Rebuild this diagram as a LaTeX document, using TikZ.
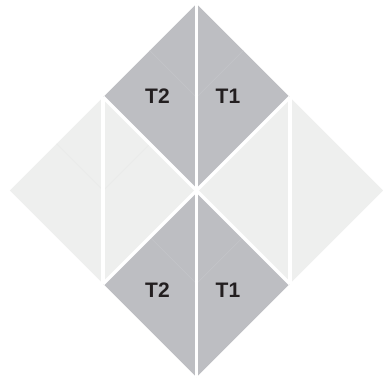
\documentclass[tikz,border=0pt]{standalone}
\usepackage{fontspec}
\setmainfont{Liberation Sans}
\usetikzlibrary{positioning, calc}

\definecolor{tilegray}{HTML}{BDBEC2}
\definecolor{tilelight}{HTML}{EEEFEE}
\definecolor{labelink}{HTML}{231F20}

\begin{document}
\begin{tikzpicture}[x=1pt, y=-1pt,
  gap/.style={white, line width=3.8pt},
  fold/.style={line width=0.5pt},
  tilelabel/.style={font=\bfseries\fontsize{21}{21}\selectfont, text=labelink, inner sep=0pt}]
\useasboundingbox (0,0) rectangle (383,381);
\def\d{93.3}
\coordinate (O) at (196.5,190.5);

% four diamonds
\foreach \name/\dx/\dy/\col in {top/0/-1/tilegray, bot/0/1/tilegray, lft/-1/0/tilelight, rgt/1/0/tilelight} {
  \coordinate (\name) at ($(O)+(\dx*\d,\dy*\d)$);
  \fill[\col] ($(\name)+(0,-\d)$) -- ($(\name)+(\d,0)$) -- ($(\name)+(0,\d)$) -- ($(\name)+(-\d,0)$) -- cycle;
}

% faint folds
\foreach \name/\col in {top/tilegray!88!white, bot/tilegray!88!white, lft/tilelight!98!black} {
  \draw[fold, \col] ($(\name)+(-\d/2,-\d/2)$) -- (\name) -- ($(\name)+(\d/2,-\d/2)$);
}

% white cuts
\draw[gap] ($(top)+(0,-\d)$) -- ($(bot)+(0,\d)$);
\draw[gap] ($(lft)+(0,-\d)$) -- ($(lft)+(0,\d)$);
\draw[gap] ($(rgt)+(0,-\d)$) -- ($(rgt)+(0,\d)$);
\draw[gap, line width=3.2pt] ($(lft)+(0,-\d)$) -- ($(rgt)+(0,\d)$);
\draw[gap, line width=3.2pt] ($(rgt)+(0,-\d)$) -- ($(lft)+(0,\d)$);

\node[tilelabel] (t2up) at (157.5,96) {T2};
\node[tilelabel] (t1up) at (228,96) {T1};
\node[tilelabel] (t2dn) at (157.5,290) {T2};
\node[tilelabel] (t1dn) at (228,290) {T1};
\end{tikzpicture}
\end{document}
